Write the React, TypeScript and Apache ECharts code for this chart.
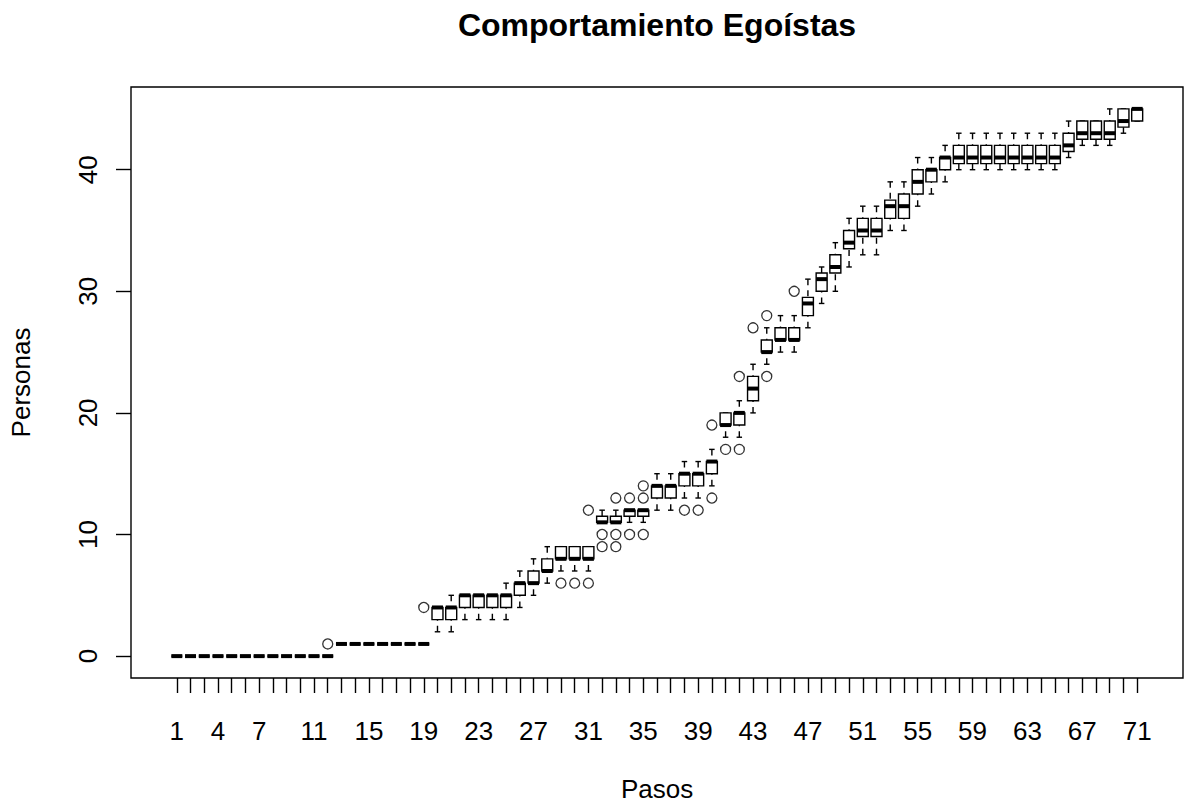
import React, { useEffect, useRef } from "react";
import * as echarts from "echarts";

// Steps (categories) 1..71
const steps = [
  1, 2, 3, 4, 5, 6, 7, 8, 9, 10, 11, 12, 13, 14, 15, 16, 17, 18, 19, 20,
  21, 22, 23, 24, 25, 26, 27, 28, 29, 30, 31, 32, 33, 34, 35, 36, 37, 38, 39, 40,
  41, 42, 43, 44, 45, 46, 47, 48, 49, 50, 51, 52, 53, 54, 55, 56, 57, 58, 59, 60,
  61, 62, 63, 64, 65, 66, 67, 68, 69, 70, 71,
];

const lowWhisker = [
  0, 0, 0, 0, 0, 0, 0, 0, 0, 0, 0, 0, 1, 1, 1, 1, 1, 1, 1,
  2, 2, 3, 3, 3, 3, 4, 5, 6, 7, 7, 7, 11, 11, 11, 11, 12, 12, 13, 13, 14,
  18, 18, 20, 24, 25, 25, 27, 29, 30, 32, 33, 33, 35, 35, 37, 38, 39,
  40, 40, 40, 40, 40, 40, 40, 40, 41, 42, 42, 42, 43, 44,
];
const q1 = [
  0, 0, 0, 0, 0, 0, 0, 0, 0, 0, 0, 0, 1, 1, 1, 1, 1, 1, 1,
  3, 3, 4, 4, 4, 4, 5, 6, 7, 8, 8, 8, 11, 11, 11.5, 11.5, 13, 13, 14, 14, 15,
  19, 19, 21, 25, 26, 26, 28, 30, 31.5, 33.5, 34.5, 34.5, 36, 36, 38, 39, 40,
  40.5, 40.5, 40.5, 40.5, 40.5, 40.5, 40.5, 40.5, 41.5, 42.5, 42.5, 42.5, 43.5, 44,
];
const median = [
  0, 0, 0, 0, 0, 0, 0, 0, 0, 0, 0, 0, 1, 1, 1, 1, 1, 1, 1,
  4, 4, 5, 5, 5, 5, 6, 6, 7, 8, 8, 8, 11, 11, 12, 12, 14, 14, 15, 15, 16,
  19, 20, 22, 25, 26, 26, 29, 31, 32, 34, 35, 35, 37, 37, 39, 40, 41,
  41, 41, 41, 41, 41, 41, 41, 41, 42, 43, 43, 43, 44, 45,
];
const q3 = [
  0, 0, 0, 0, 0, 0, 0, 0, 0, 0, 0, 0, 1, 1, 1, 1, 1, 1, 1,
  4, 4, 5, 5, 5, 5, 6, 7, 8, 9, 9, 9, 11.5, 11.5, 12, 12, 14, 14, 15, 15, 16,
  20, 20, 23, 26, 27, 27, 29.5, 31.5, 33, 35, 36, 36, 37.5, 38, 40, 40, 41,
  42, 42, 42, 42, 42, 42, 42, 42, 43, 44, 44, 44, 45, 45,
];
const highWhisker = [
  0, 0, 0, 0, 0, 0, 0, 0, 0, 0, 0, 0, 1, 1, 1, 1, 1, 1, 1,
  4, 5, 5, 5, 5, 6, 7, 8, 9, 9, 9, 9, 12, 12, 12, 12, 15, 15, 16, 16, 17,
  20, 21, 24, 27, 28, 28, 31, 32, 34, 36, 37, 37, 39, 39, 41, 41, 42,
  43, 43, 43, 43, 43, 43, 43, 43, 44, 44, 44, 45, 45, 45,
];

// [step, value]
const outliers = [
  [12, 1], [19, 4], [29, 6], [30, 6], [31, 6], [31, 12], [32, 10], [32, 9],
  [33, 13], [33, 10], [33, 9], [34, 13], [34, 10], [35, 14], [35, 13], [35, 10],
  [38, 12], [39, 12], [40, 13], [40, 19], [41, 17], [42, 17], [42, 23],
  [43, 27], [44, 28], [44, 23], [46, 30],
];

const xTickLabels = [1, 4, 7, 11, 15, 19, 23, 27, 31, 35, 39, 43, 47, 51, 55, 59, 63, 67, 71];
const yTickValues = [0, 10, 20, 30, 40];

const FONT = "'Liberation Sans', Arial, sans-serif";

export default function App() {
  const ref = useRef<HTMLDivElement>(null);

  useEffect(() => {
    if (!ref.current) return;
    const chart = echarts.init(ref.current, null, { renderer: "svg" });

    const boxData = steps.map((s, i) => [s, lowWhisker[i], q1[i], median[i], q3[i], highWhisker[i]]);

    const renderItem = (params: any, api: any) => {
      const x = api.value(0);
      const lo = api.value(1);
      const b1 = api.value(2);
      const md = api.value(3);
      const b3 = api.value(4);
      const hi = api.value(5);
      const pLo = api.coord([x, lo]);
      const p1 = api.coord([x, b1]);
      const pMd = api.coord([x, md]);
      const p3 = api.coord([x, b3]);
      const pHi = api.coord([x, hi]);
      const halfW = api.size([0.8, 0])[0] / 2;
      const stapleHalf = halfW / 2;
      const cx = pMd[0];
      const children: any[] = [];
      // whiskers (dashed), drawn from the extreme towards the box
      children.push({
        type: "line",
        shape: { x1: cx, y1: pHi[1], x2: cx, y2: p3[1] },
        style: { stroke: "#000", lineWidth: 1.4, lineDash: [6, 5] },
      });
      children.push({
        type: "line",
        shape: { x1: cx, y1: pLo[1], x2: cx, y2: p1[1] },
        style: { stroke: "#000", lineWidth: 1.4, lineDash: [6, 5] },
      });
      // staples
      children.push({
        type: "line",
        shape: { x1: cx - stapleHalf, y1: pHi[1], x2: cx + stapleHalf, y2: pHi[1] },
        style: { stroke: "#000", lineWidth: 1.4 },
      });
      children.push({
        type: "line",
        shape: { x1: cx - stapleHalf, y1: pLo[1], x2: cx + stapleHalf, y2: pLo[1] },
        style: { stroke: "#000", lineWidth: 1.4 },
      });
      // box
      children.push({
        type: "rect",
        shape: { x: cx - halfW, y: p3[1], width: halfW * 2, height: p1[1] - p3[1] },
        style: { stroke: "#000", lineWidth: 1.4, fill: "#fff" },
      });
      // median
      children.push({
        type: "line",
        shape: { x1: cx - halfW, y1: pMd[1], x2: cx + halfW, y2: pMd[1] },
        style: { stroke: "#000", lineWidth: 4 },
      });
      return { type: "group", children };
    };

    chart.setOption({
      animation: false,
      backgroundColor: "#fff",
      textStyle: { fontFamily: FONT },
      grid: {
        left: 131,
        right: 1,
        top: 87,
        bottom: 807 - 680,
        show: true,
        borderColor: "#000",
        borderWidth: 1.4,
        backgroundColor: "transparent",
      },
      xAxis: {
        type: "value",
        min: -2.34,
        max: 74.34,
        name: "Pasos",
        nameLocation: "middle",
        nameGap: 98,
        nameTextStyle: { fontSize: 26, color: "#000", fontFamily: FONT },
        axisLine: { show: false, onZero: false },
        splitLine: { show: false },
        axisTick: {
          show: true,
          customValues: steps,
          length: 15,
          lineStyle: { color: "#000", width: 1.4 },
        },
        axisLabel: {
          customValues: xTickLabels,
          fontSize: 26,
          lineHeight: 26,
          margin: 40,
          color: "#000",
          fontFamily: FONT,
        },
      },
      yAxis: {
        type: "value",
        min: -1.8,
        max: 46.8,
        name: "Personas",
        nameLocation: "middle",
        nameGap: 97,
        nameTextStyle: { fontSize: 26, color: "#000", fontFamily: FONT },
        axisLine: { show: false, onZero: false },
        splitLine: { show: false },
        axisTick: {
          show: true,
          customValues: yTickValues,
          length: 15,
          lineStyle: { color: "#000", width: 1.4 },
        },
        axisLabel: {
          customValues: yTickValues,
          rotate: 90,
          fontSize: 26,
          lineHeight: 26,
          margin: 30,
          color: "#000",
          fontFamily: FONT,
        },
      },
      graphic: [
        {
          type: "text",
          x: 657,
          y: 25,
          style: {
            text: "Comportamiento Egoístas",
            font: `bold 32px ${FONT}`,
            fill: "#000",
            textAlign: "center",
            textVerticalAlign: "middle",
          },
        },
      ],
      series: [
        {
          type: "custom",
          renderItem,
          data: boxData,
          encode: { x: 0, y: [1, 2, 3, 4, 5] },
          z: 2,
        },
        {
          type: "scatter",
          data: outliers,
          symbol: "circle",
          symbolSize: 10,
          itemStyle: { color: "transparent", borderColor: "#000", borderWidth: 1.3 },
          z: 3,
        },
      ],
    });

    return () => chart.dispose();
  }, []);

  return (
    <div
      ref={ref}
      style={{ position: "absolute", left: 0, top: 0, width: 1184, height: 807 }}
    />
  );
}
